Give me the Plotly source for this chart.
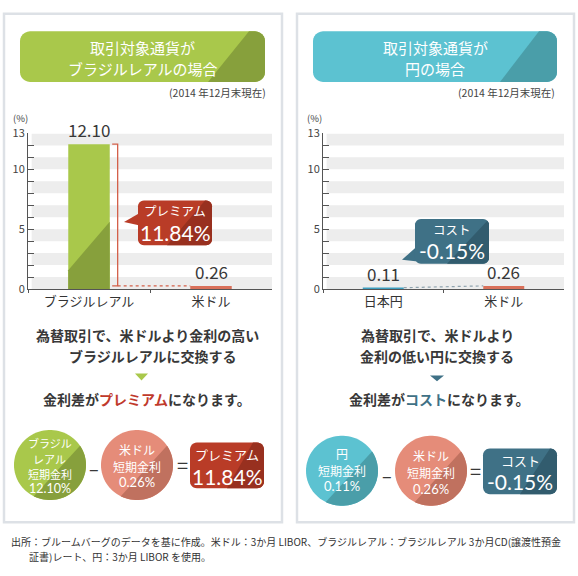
import math
import plotly.graph_objects as go

W, H = 578, 576
FONT = "Noto Sans CJK JP"
NUMFONT = "Lato"

# ---------------- data ----------------
left_categories = ["ブラジルレアル", "米ドル"]
left_values = [12.10, 0.26]
right_categories = ["日本円", "米ドル"]
right_values = [0.11, 0.26]
y_tickvals = [0, 5, 10, 13]
premium_value = 11.84
cost_value = -0.15

# ---------------- colours ----------------
GREEN = "#a9c84b"
GREEN_D = "#87a03c"
TEAL = "#5cc2d1"
TEAL_D = "#4a9ea9"
RED = "#b93c27"
RED_D = "#98301f"
NAVY = "#3f7186"
NAVY_D = "#325c6e"
SALMON = "#e58c79"
SALMON_D = "#c0715f"
BAR_USD = "#d9705a"
BAR_JPY = "#3e9fc0"
BRACKET = "#d4604a"
STRIPE = "#ededed"
AX = "#555555"
TXT = "#383838"


def px(x):
    return x / W


def py(y):
    return 1 - y / H


def ppath(pts):
    return "M " + " L ".join(f"{px(x):.5f},{py(y):.5f}" for x, y in pts) + " Z"


def rrect(x0, y0, x1, y1, r, n=6):
    pts = []
    for cx, cy, a0 in [(x0 + r, y0 + r, 180), (x1 - r, y0 + r, 270), (x1 - r, y1 - r, 0), (x0 + r, y1 - r, 90)]:
        for k in range(n + 1):
            a = math.radians(a0 + 90 * k / n)
            pts.append((cx + r * math.cos(a), cy + r * math.sin(a)))
    return pts


def circ(cx, cy, r, n=90):
    return [(cx + r * math.cos(2 * math.pi * k / n), cy + r * math.sin(2 * math.pi * k / n)) for k in range(n)]


def clip(poly, a, b, ref):
    def side(p):
        return (b[0] - a[0]) * (p[1] - a[1]) - (b[1] - a[1]) * (p[0] - a[0])
    s = 1 if side(ref) > 0 else -1
    out = []
    for i in range(len(poly)):
        cur, prev = poly[i], poly[i - 1]
        sc, sp = side(cur) * s, side(prev) * s

        def inter():
            t = sp / (sp - sc)
            return (prev[0] + t * (cur[0] - prev[0]), prev[1] + t * (cur[1] - prev[1]))
        if sc >= 0:
            if sp < 0:
                out.append(inter())
            out.append(cur)
        elif sp >= 0:
            out.append(inter())
    return out


def pshape(pts, color, layer="above"):
    return dict(type="path", path=ppath(pts), xref="paper", yref="paper",
                fillcolor=color, line=dict(width=0), layer=layer)


def T(text, x, y, size, color=TXT, xanchor="center", yanchor="middle", weight="normal", family=FONT):
    return dict(text=text, x=px(x), y=py(y), xref="paper", yref="paper", showarrow=False,
                font=dict(family=family, size=size, color=color, weight=weight),
                xanchor=xanchor, yanchor=yanchor, borderpad=0)


shapes = []
anns = []

# panels
for x0, x1 in [(4, 282), (297, 574)]:
    shapes.append(dict(type="rect", xref="paper", yref="paper", x0=px(x0), x1=px(x1), y0=py(528), y1=py(5),
                       line=dict(color="#dde1e6", width=2.5), fillcolor="rgba(0,0,0,0)", layer="below"))

# title boxes
for (x0, x1, c, cd, a, b, lines) in [
    (20, 265, GREEN, GREEN_D, (249, 23), (208, 75), ["取引対象通貨が", "ブラジルレアルの場合"]),
    (313, 557, TEAL, TEAL_D, (539, 23), (500, 75), ["取引対象通貨が", "円の場合"]),
]:
    box = rrect(x0, 23, x1, 75, 10)
    shapes.append(pshape(box, c))
    shapes.append(pshape(clip(box, a, b, (x1, 75)), cd))
    cx = (x0 + x1) / 2
    anns.append(T(lines[0], cx, 39.5, 15, "white"))
    anns.append(T(lines[1], cx, 61.5, 15, "white"))

anns.append(T("(2014 年12月末現在)", 267, 86, 10.5, "#444", xanchor="right"))
anns.append(T("(2014 年12月末現在)", 556, 86, 10.5, "#444", xanchor="right"))
anns.append(T("(%)", 20, 112, 9.5, "#444"))
anns.append(T("(%)", 314, 112, 9.5, "#444"))

# stripes
for xr, yr in [("x domain", "y"), ("x2 domain", "y2")]:
    for k in range(0, 13, 2):
        shapes.append(dict(type="rect", xref=xr, yref=yr, x0=0.015, x1=1, y0=k, y1=k + 1,
                           fillcolor=STRIPE, line=dict(width=0), layer="below"))

# bars
fig = go.Figure()
fig.add_trace(go.Bar(x=left_categories, y=left_values, marker=dict(color=[GREEN, BAR_USD], line=dict(width=0)),
                     width=0.34, xaxis="x", yaxis="y", hoverinfo="skip"))
fig.add_trace(go.Bar(x=right_categories, y=right_values, marker=dict(color=[BAR_JPY, BAR_USD], line=dict(width=0)),
                     width=0.34, xaxis="x2", yaxis="y2", hoverinfo="skip"))

# darker diagonal on the tall bar
v0 = left_values[0]
shapes.append(dict(type="path", xref="x", yref="y",
                   path=f"M -0.17,0 L -0.17,{v0*0.13:.3f} L 0.17,{v0*0.465:.3f} L 0.17,0 Z",
                   fillcolor=GREEN_D, line=dict(width=0), layer="above"))

# bracket showing the difference
vt, vb = left_values
shapes.append(dict(type="path", xref="x", yref="y",
                   path=f"M 0.19,{vt} L 0.235,{vt} L 0.235,{vb} L 0.19,{vb}",
                   line=dict(color=BRACKET, width=1.3), layer="above"))
shapes.append(dict(type="line", xref="x", yref="y", x0=0.235, x1=0.83, y0=vb, y1=vb,
                   line=dict(color=BRACKET, width=1.2, dash="dot"), layer="above"))
# dotted connector on right chart
shapes.append(dict(type="line", xref="x2", yref="y2", x0=0.17, x1=0.83, y0=right_values[0], y1=right_values[1],
                   line=dict(color="#8fa3ae", width=1.2, dash="dot"), layer="above"))

# value labels
for i, v in enumerate(left_values):
    anns.append(dict(text=f"{v:.2f}", x=i, y=v, xref="x", yref="y", showarrow=False, yanchor="bottom",
                     yshift=0, font=dict(family=FONT, size=17, color=TXT)))
for i, v in enumerate(right_values):
    anns.append(dict(text=f"{v:.2f}", x=i, y=v, xref="x2", yref="y2", showarrow=False, yanchor="bottom",
                     yshift=0, font=dict(family=FONT, size=17, color=TXT)))

# callout premium (left chart)
box = rrect(138, 197, 212, 243, 6)
shapes.append(pshape([(124, 219), (141, 209), (141, 223)], RED))
shapes.append(pshape(box, RED))
shapes.append(pshape(clip(box, (205, 197), (167, 243), (212, 243)), RED_D))
anns.append(T("プレミアム", 175, 207.5, 12.5, "white"))
anns.append(T(f"{premium_value:.2f}%", 175, 229.5, 21, "white", family=NUMFONT))

# callout cost (right chart)
box = rrect(415, 216, 489, 262, 6)
shapes.append(pshape([(402, 258), (416, 245), (429, 261)], NAVY))
shapes.append(pshape(box, NAVY))
shapes.append(pshape(clip(box, (488, 217), (447, 262), (489, 262)), NAVY_D))
anns.append(T("コスト", 452, 226.5, 12.5, "white"))
anns.append(T(f"{cost_value:.2f}%", 452, 248.5, 21, "white", family=NUMFONT))

# middle text
anns.append(T("為替取引で、米ドルより金利の高い", 147, 335, 14, TXT, weight="bold"))
anns.append(T("ブラジルレアルに交換する", 153, 357, 14, TXT, weight="bold"))
shapes.append(pshape([(135, 375), (148, 375), (141.5, 382)], GREEN))
anns.append(T('金利差が<span style="color:#c0392b">プレミアム</span>になります。', 147, 401, 14, TXT, weight="bold"))

anns.append(T("為替取引で、米ドルより", 437, 335, 14, TXT, weight="bold"))
anns.append(T("金利の低い円に交換する", 437, 357, 14, TXT, weight="bold"))
shapes.append(pshape([(430, 377), (444, 377), (437, 383)], NAVY))
anns.append(T('金利差が<span style="color:#3f7186">コスト</span>になります。', 439, 401, 14, TXT, weight="bold"))


def circle_block(cx, cy, c, cd, lines, ys, size, numsize):
    pts = circ(cx, cy, 36)
    shapes.append(pshape(pts, c))
    shapes.append(pshape(clip(pts, (cx + 31, cy - 21), (cx - 17, cy + 33), (cx + 36, cy + 36)), cd))
    for i, (t, yy) in enumerate(zip(lines, ys)):
        if i == len(lines) - 1:
            anns.append(T(t, cx, yy, numsize, "white", family=NUMFONT))
        else:
            anns.append(T(t, cx, yy, size, "white"))


circle_block(50, 469, GREEN, GREEN_D, ["ブラジル", "レアル", "短期金利", f"{left_values[0]:.2f}%"],
             [446.5, 462.5, 478.5, 493.5], 11, 12.5)
circle_block(137, 469, SALMON, SALMON_D, ["米ドル", "短期金利", f"{left_values[1]:.2f}%"],
             [453, 470.5, 487], 12, 13)
circle_block(342, 475, TEAL, TEAL_D, ["円", "短期金利", f"{right_values[0]:.2f}%"],
             [457, 474.5, 491], 12, 13)
circle_block(431, 475, SALMON, SALMON_D, ["米ドル", "短期金利", f"{right_values[1]:.2f}%"],
             [459.5, 477, 493.5], 12, 13)

anns.append(T("–", 94, 472, 18, TXT))
anns.append(T("=", 182, 469, 20, TXT))
anns.append(T("–", 387, 479, 18, TXT))
anns.append(T("=", 475, 475, 20, TXT))

box = rrect(190, 446, 264, 493, 7)
shapes.append(pshape(box, RED))
shapes.append(pshape(clip(box, (253, 446), (227, 493), (264, 493)), RED_D))
anns.append(T("プレミアム", 227, 458.5, 13, "white"))
anns.append(T(f"{premium_value:.2f}%", 227, 480.5, 21, "white", family=NUMFONT))

box = rrect(483, 452, 557, 499, 7)
shapes.append(pshape(box, NAVY))
shapes.append(pshape(clip(box, (550, 452), (520, 499), (557, 499)), NAVY_D))
anns.append(T("コスト", 520, 464, 13, "white"))
anns.append(T(f"{cost_value:.2f}%", 520, 486, 21, "white", family=NUMFONT))

# footnote
anns.append(T("出所：ブルームバーグのデータを基に作成。米ドル：3か月 LIBOR、ブラジルレアル：ブラジルレアル 3か月CD(譲渡性預金",
              10, 548, 10, "#333", xanchor="left"))
anns.append(T("証書)レート、円：3か月 LIBOR を使用。", 28, 563, 10, "#333", xanchor="left"))


def yaxis(anchor):
    return dict(anchor=anchor, domain=[1 - 288 / H, 1 - 128 / H], range=[0, 13], tickvals=y_tickvals,
                ticks="inside", ticklen=6, tickcolor=AX, showline=True, linecolor=AX, linewidth=1,
                showgrid=False, zeroline=False, tickfont=dict(family=FONT, size=11, color="#444"),
                minor=dict(tickmode="linear", tick0=0, dtick=1, ticks="inside", ticklen=6, tickcolor=AX,
                           showgrid=False), fixedrange=True)


def xaxis(anchor, dom):
    return dict(anchor=anchor, domain=dom, type="category", range=[-0.5, 1.5], showline=True, linecolor=AX,
                linewidth=1, ticks="outside", tickson="boundaries", ticklen=3, tickcolor=AX, showgrid=False,
                tickfont=dict(family=FONT, size=13, color="#333"), fixedrange=True)


fig.update_layout(
    width=W, height=H, margin=dict(l=0, r=0, t=0, b=0),
    paper_bgcolor="white", plot_bgcolor="rgba(0,0,0,0)", showlegend=False,
    xaxis=xaxis("y", [28 / W, 272 / W]), yaxis=yaxis("x"),
    xaxis2=xaxis("y2", [323 / W, 564 / W]), yaxis2=yaxis("x2"),
    shapes=shapes, annotations=anns,
)

fig.write_html("out.html", config={"displayModeBar": False},
               post_script="document.body.style.margin='0';document.body.style.overflow='hidden';")
